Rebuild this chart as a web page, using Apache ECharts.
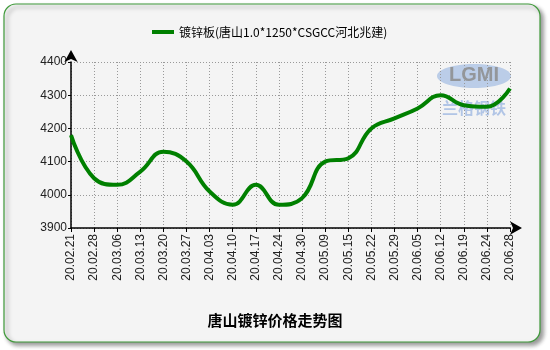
<!DOCTYPE html>
<html><head><meta charset="utf-8">
<script src="https://cdn.jsdelivr.net/npm/echarts@6/dist/echarts.min.js"></script>
<style>html,body{margin:0;padding:0;background:#fff}#c{width:550px;height:350px}</style>
</head><body><div id="c"></div>
<script>
var categories = ['20.02.21','20.02.28','20.03.06','20.03.13','20.03.20','20.03.27','20.04.03','20.04.10','20.04.17','20.04.24','20.04.30','20.05.09','20.05.15','20.05.22','20.05.29','20.06.05','20.06.12','20.06.19','20.06.24','20.06.28'];
var prices = [4180,4050,4030,4070,4130,4100,4010,3970,4030,3970,3990,4100,4110,4200,4230,4260,4300,4270,4265,4320];
var seriesName = '镀锌板(唐山1.0*1250*CSGCC河北兆建)';
var chartTitle = '唐山镀锌价格走势图';
var yMin = 3900, yMax = 4400, yStep = 100;

var chart = echarts.init(document.getElementById('c'), null, {renderer:'canvas'});
chart.setOption({
  animation:false,
  backgroundColor:'#fff',
  graphic:[
    {type:'rect', z:-10, shape:{x:4,y:4,width:536,height:338,r:12},
     style:{fill:'#f4f4f4',stroke:'#3f9a3a',lineWidth:1.2,shadowBlur:4,shadowOffsetX:3,shadowOffsetY:3,shadowColor:'rgba(0,0,0,0.4)'}},
    {type:'ellipse', z:-5, shape:{cx:474,cy:76,rx:37,ry:12}, style:{fill:'rgba(130,165,220,0.5)'}},
    {type:'text', z:-4, style:{x:474,y:75,text:'LGMI',fill:'rgba(140,140,140,0.85)',font:'bold 20px Arial',textAlign:'center',textVerticalAlign:'middle'}},
    {type:'text', z:-4, style:{x:474,y:108,text:'兰格钢铁',fill:'rgba(110,150,215,0.5)',font:'bold 16px "Noto Sans CJK SC"',textAlign:'center',textVerticalAlign:'middle'}}
  ],
  title:{text:chartTitle,left:'center',top:308,textStyle:{fontSize:15,fontWeight:'bold',color:'#000',fontFamily:'"Noto Sans CJK SC", sans-serif'}},
  legend:{left:147,top:21,itemWidth:22,itemHeight:4,icon:'rect',
    textStyle:{fontSize:12,color:'#000',fontFamily:'"Noto Sans CJK SC", Arial, sans-serif'},
    data:[seriesName]},
  grid:{left:71,right:40,top:62,bottom:122,containLabel:false},
  xAxis:{type:'category',data:categories,boundaryGap:false,
    axisLine:{lineStyle:{color:'#000',width:1.5},symbol:['none','arrow'],symbolSize:[10,12],symbolOffset:[0,12]},
    axisTick:{show:true,length:4,lineStyle:{color:'#000'}},
    axisLabel:{rotate:90,fontSize:12,color:'#222',fontFamily:'Arial, "Liberation Sans"',margin:6},
    splitLine:{show:true,lineStyle:{color:'#999',type:[1,2],width:1}}},
  yAxis:{type:'value',min:yMin,max:yMax,interval:yStep,
    axisLine:{show:true,lineStyle:{color:'#000',width:1.5},symbol:['none','arrow'],symbolSize:[10,12],symbolOffset:[0,12]},
    axisTick:{show:true,length:3,lineStyle:{color:'#000'}},
    axisLabel:{fontSize:12,color:'#222',fontFamily:'Arial, "Liberation Sans"',margin:4,formatter:function(v){return String(v);}},
    splitLine:{show:true,lineStyle:{color:'#999',type:[1,2],width:1}}},
  series:[{name:seriesName,type:'line',data:prices,smooth:0.45,showSymbol:false,
    lineStyle:{color:'#008000',width:4},itemStyle:{color:'#008000'}}]
});
</script></body></html>
